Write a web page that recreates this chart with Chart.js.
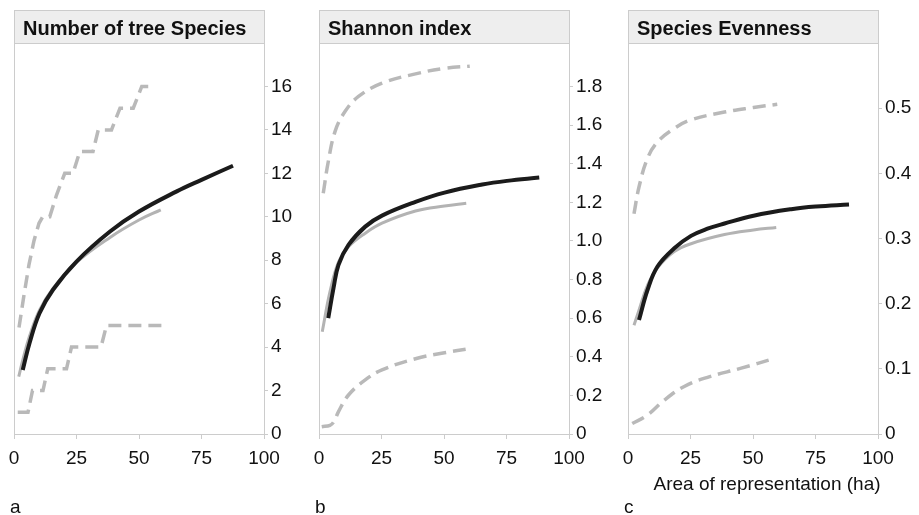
<!DOCTYPE html>
<html>
<head>
<meta charset="utf-8">
<title>Species accumulation</title>
<script src="https://cdn.jsdelivr.net/npm/chart.js@4.4.1/dist/chart.umd.min.js"></script>
<style>
  html, body { margin: 0; padding: 0; background: #fff; }
  #wrap { position: relative; width: 919px; height: 515px; overflow: hidden; }
  .panel { position: absolute; top: 0; width: 305px; height: 515px; }
</style>
</head>
<body>
<div id="wrap">
  <div class="panel" style="left:0px"><canvas id="chartA" width="305" height="515"></canvas></div>
  <div class="panel" style="left:305px"><canvas id="chartB" width="305" height="515"></canvas></div>
  <div class="panel" style="left:614px"><canvas id="chartC" width="305" height="515"></canvas></div>
</div>
<script>
// Panel a - number of tree species
const richMeanArea = [3.5, 6.2, 10.2, 15.6, 25, 38.4, 50, 65.1, 75, 87.6];
const richMean     = [2.95, 4.18, 5.56, 6.64, 7.94, 9.32, 10.24, 11.17, 11.7, 12.35];
const richObsArea  = [1.9, 3.5, 6.2, 10.2, 15.6, 25, 38.4, 50, 58.7];
const richObs      = [2.64, 3.4, 4.5, 5.7, 6.7, 7.9, 9.05, 9.85, 10.32];
const richHighArea = [2, 4, 6, 8, 10, 11.5, 14.3, 17, 20.3, 23.6, 26.3, 31.6, 33.7, 39, 42.4, 47.7, 51.1, 55.7];
const richHigh     = [4.9, 6.4, 7.8, 8.9, 9.7, 10, 10, 11, 12, 12, 13, 13, 14, 14, 15, 15, 16, 16];
const richLowArea  = [1.5, 5.6, 7.4, 11.6, 13.5, 21, 23, 34.8, 37, 59];
const richLow      = [1, 1, 2, 2, 3, 3, 4, 4, 5, 5];

// Panel b - Shannon index
const shanMeanArea = [3.7, 5.8, 7.8, 11.8, 18.5, 25.2, 38.6, 50.2, 65.3, 75.2, 88.1];
const shanMean     = [0.60, 0.755, 0.876, 0.979, 1.074, 1.131, 1.202, 1.250, 1.292, 1.311, 1.328];
const shanObsArea  = [1.3, 4.4, 7.8, 11.8, 18.5, 25.2, 38.6, 50.2, 58.9];
const shanObs      = [0.53, 0.737, 0.89, 0.97, 1.04, 1.092, 1.155, 1.181, 1.195];
const shanHighArea = [1.7, 3.7, 6.4, 10.4, 15.8, 25.2, 38.6, 50.2, 60.3];
const shanHigh     = [1.247, 1.41, 1.566, 1.67, 1.748, 1.817, 1.865, 1.894, 1.905];
const shanLowArea  = [1.1, 4.4, 6, 7.8, 11.8, 18.5, 25.2, 38.6, 50.2, 59.3];
const shanLow      = [0.038, 0.045, 0.065, 0.116, 0.202, 0.28, 0.332, 0.39, 0.421, 0.44];

// Panel c - species evenness
const evenMeanArea = [4.4, 7.8, 11.8, 18.5, 25.2, 31.8, 38.6, 50.2, 65.3, 75.2, 88.4];
const evenMean     = [0.175, 0.221, 0.257, 0.285, 0.304, 0.315, 0.323, 0.335, 0.345, 0.349, 0.352];
const evenObsArea  = [2.4, 4.4, 7.8, 11.8, 18.5, 25.2, 38.6, 50.2, 59.3];
const evenObs      = [0.167, 0.19, 0.228, 0.255, 0.280, 0.292, 0.306, 0.313, 0.317];
const evenHighArea = [2.4, 4.4, 7.8, 11.8, 18.5, 25.2, 38.6, 50.2, 59.7];
const evenHigh     = [0.338, 0.379, 0.423, 0.448, 0.469, 0.482, 0.494, 0.501, 0.506];
const evenLowArea  = [1.7, 7.8, 14.5, 22.5, 31.8, 45.3, 58.6];
const evenLow      = [0.016, 0.029, 0.052, 0.073, 0.087, 0.101, 0.116];

const areaTicks = [0, 25, 50, 75, 100];

const FONT = '"Liberation Sans", Arial, sans-serif';
const AXIS_GREY = '#cccccc';

const pts = (xs, ys) => xs.map((x, i) => ({ x: x, y: ys[i] }));

// title box, left frame line and panel letter
const panelDecor = {
    id: 'panelDecor',
    beforeDraw(chart, args, opts) {
        const { ctx, chartArea } = chart;
        const { left, right, top, bottom } = chartArea;
        ctx.save();
        ctx.fillStyle = '#eeeeee';
        ctx.fillRect(left, 10, right - left, top - 10);
        ctx.strokeStyle = AXIS_GREY;
        ctx.lineWidth = 1;
        ctx.strokeRect(left + 0.5, 10.5, right - left, top - 10);
        ctx.beginPath();
        ctx.moveTo(left + 0.5, top);
        ctx.lineTo(left + 0.5, bottom);
        ctx.stroke();

        ctx.fillStyle = '#111111';
        ctx.textBaseline = 'alphabetic';
        ctx.font = 'bold 20px ' + FONT;
        ctx.fillText(opts.title, left + 9, 35);
        ctx.font = '19px ' + FONT;
        ctx.fillText(opts.letter, left - 4, 513);
        if (opts.axisTitle) {
            ctx.textAlign = 'center';
            ctx.fillText(opts.axisTitle, (left + right) / 2 + 14, 490);
        }
        ctx.restore();
    }
};

function makePanel(id, cfg) {
    const solid = (data, color, width) => ({
        data: data, borderColor: color, borderWidth: width,
        pointRadius: 0, tension: 0.4, borderCapStyle: 'butt'
    });
    const dashed = (data, stepped) => ({
        data: data, borderColor: '#b9b9b9', borderWidth: 3.5, borderDash: [13, 7],
        pointRadius: 0, borderCapStyle: 'butt', tension: stepped ? 0 : 0.4
    });

    new Chart(document.getElementById(id), {
        type: 'line',
        data: {
            datasets: [
                solid(cfg.mean, '#1b1b1b', 4),
                solid(cfg.obs, '#b3b3b3', 3),
                dashed(cfg.high, cfg.stepped),
                dashed(cfg.low, cfg.stepped)
            ]
        },
        plugins: [panelDecor],
        options: {
            responsive: false,
            animation: false,
            layout: { padding: { left: 14, top: 43, right: 0, bottom: 0 } },
            plugins: {
                legend: { display: false },
                tooltip: { enabled: false },
                panelDecor: { title: cfg.title, letter: cfg.letter, axisTitle: cfg.axisTitle }
            },
            scales: {
                x: {
                    type: 'linear',
                    min: 0, max: 100,
                    afterBuildTicks: (scale) => { scale.ticks = areaTicks.map(v => ({ value: v })); },
                    afterFit: (scale) => { scale.height = 81; },
                    grid: { drawOnChartArea: false, tickLength: 5, color: AXIS_GREY },
                    border: { color: AXIS_GREY },
                    ticks: { color: '#111111', font: { family: FONT, size: 19 }, padding: 8, maxRotation: 0 }
                },
                y: {
                    type: 'linear',
                    position: 'right',
                    min: 0, max: cfg.yMax,
                    afterFit: (scale) => { scale.width = 41; },
                    grid: {
                        drawOnChartArea: false, tickLength: 4, color: AXIS_GREY,
                        tickColor: (c) => (c.tick && c.tick.value > cfg.yTop ? 'rgba(0,0,0,0)' : AXIS_GREY)
                    },
                    border: { color: AXIS_GREY },
                    ticks: {
                        stepSize: cfg.yStep,
                        color: '#111111',
                        font: { family: FONT, size: 19 },
                        padding: 3,
                        callback: (v) => (v > cfg.yTop ? '' : (v === 0 ? '0' : v.toFixed(cfg.yDigits)))
                    }
                }
            }
        }
    });
}

makePanel('chartA', {
    title: 'Number of tree Species', letter: 'a',
    mean: pts(richMeanArea, richMean), obs: pts(richObsArea, richObs),
    high: pts(richHighArea, richHigh), low: pts(richLowArea, richLow), stepped: true,
    yMax: 18, yStep: 2, yTop: 17, yDigits: 0
});

makePanel('chartB', {
    title: 'Shannon index', letter: 'b',
    mean: pts(shanMeanArea, shanMean), obs: pts(shanObsArea, shanObs),
    high: pts(shanHighArea, shanHigh), low: pts(shanLowArea, shanLow), stepped: false,
    yMax: 2.025, yStep: 0.2, yTop: 1.9, yDigits: 1
});

makePanel('chartC', {
    title: 'Species Evenness', letter: 'c', axisTitle: 'Area of representation (ha)',
    mean: pts(evenMeanArea, evenMean), obs: pts(evenObsArea, evenObs),
    high: pts(evenHighArea, evenHigh), low: pts(evenLowArea, evenLow), stepped: false,
    yMax: 0.6, yStep: 0.1, yTop: 0.55, yDigits: 1
});
</script>
</body>
</html>
